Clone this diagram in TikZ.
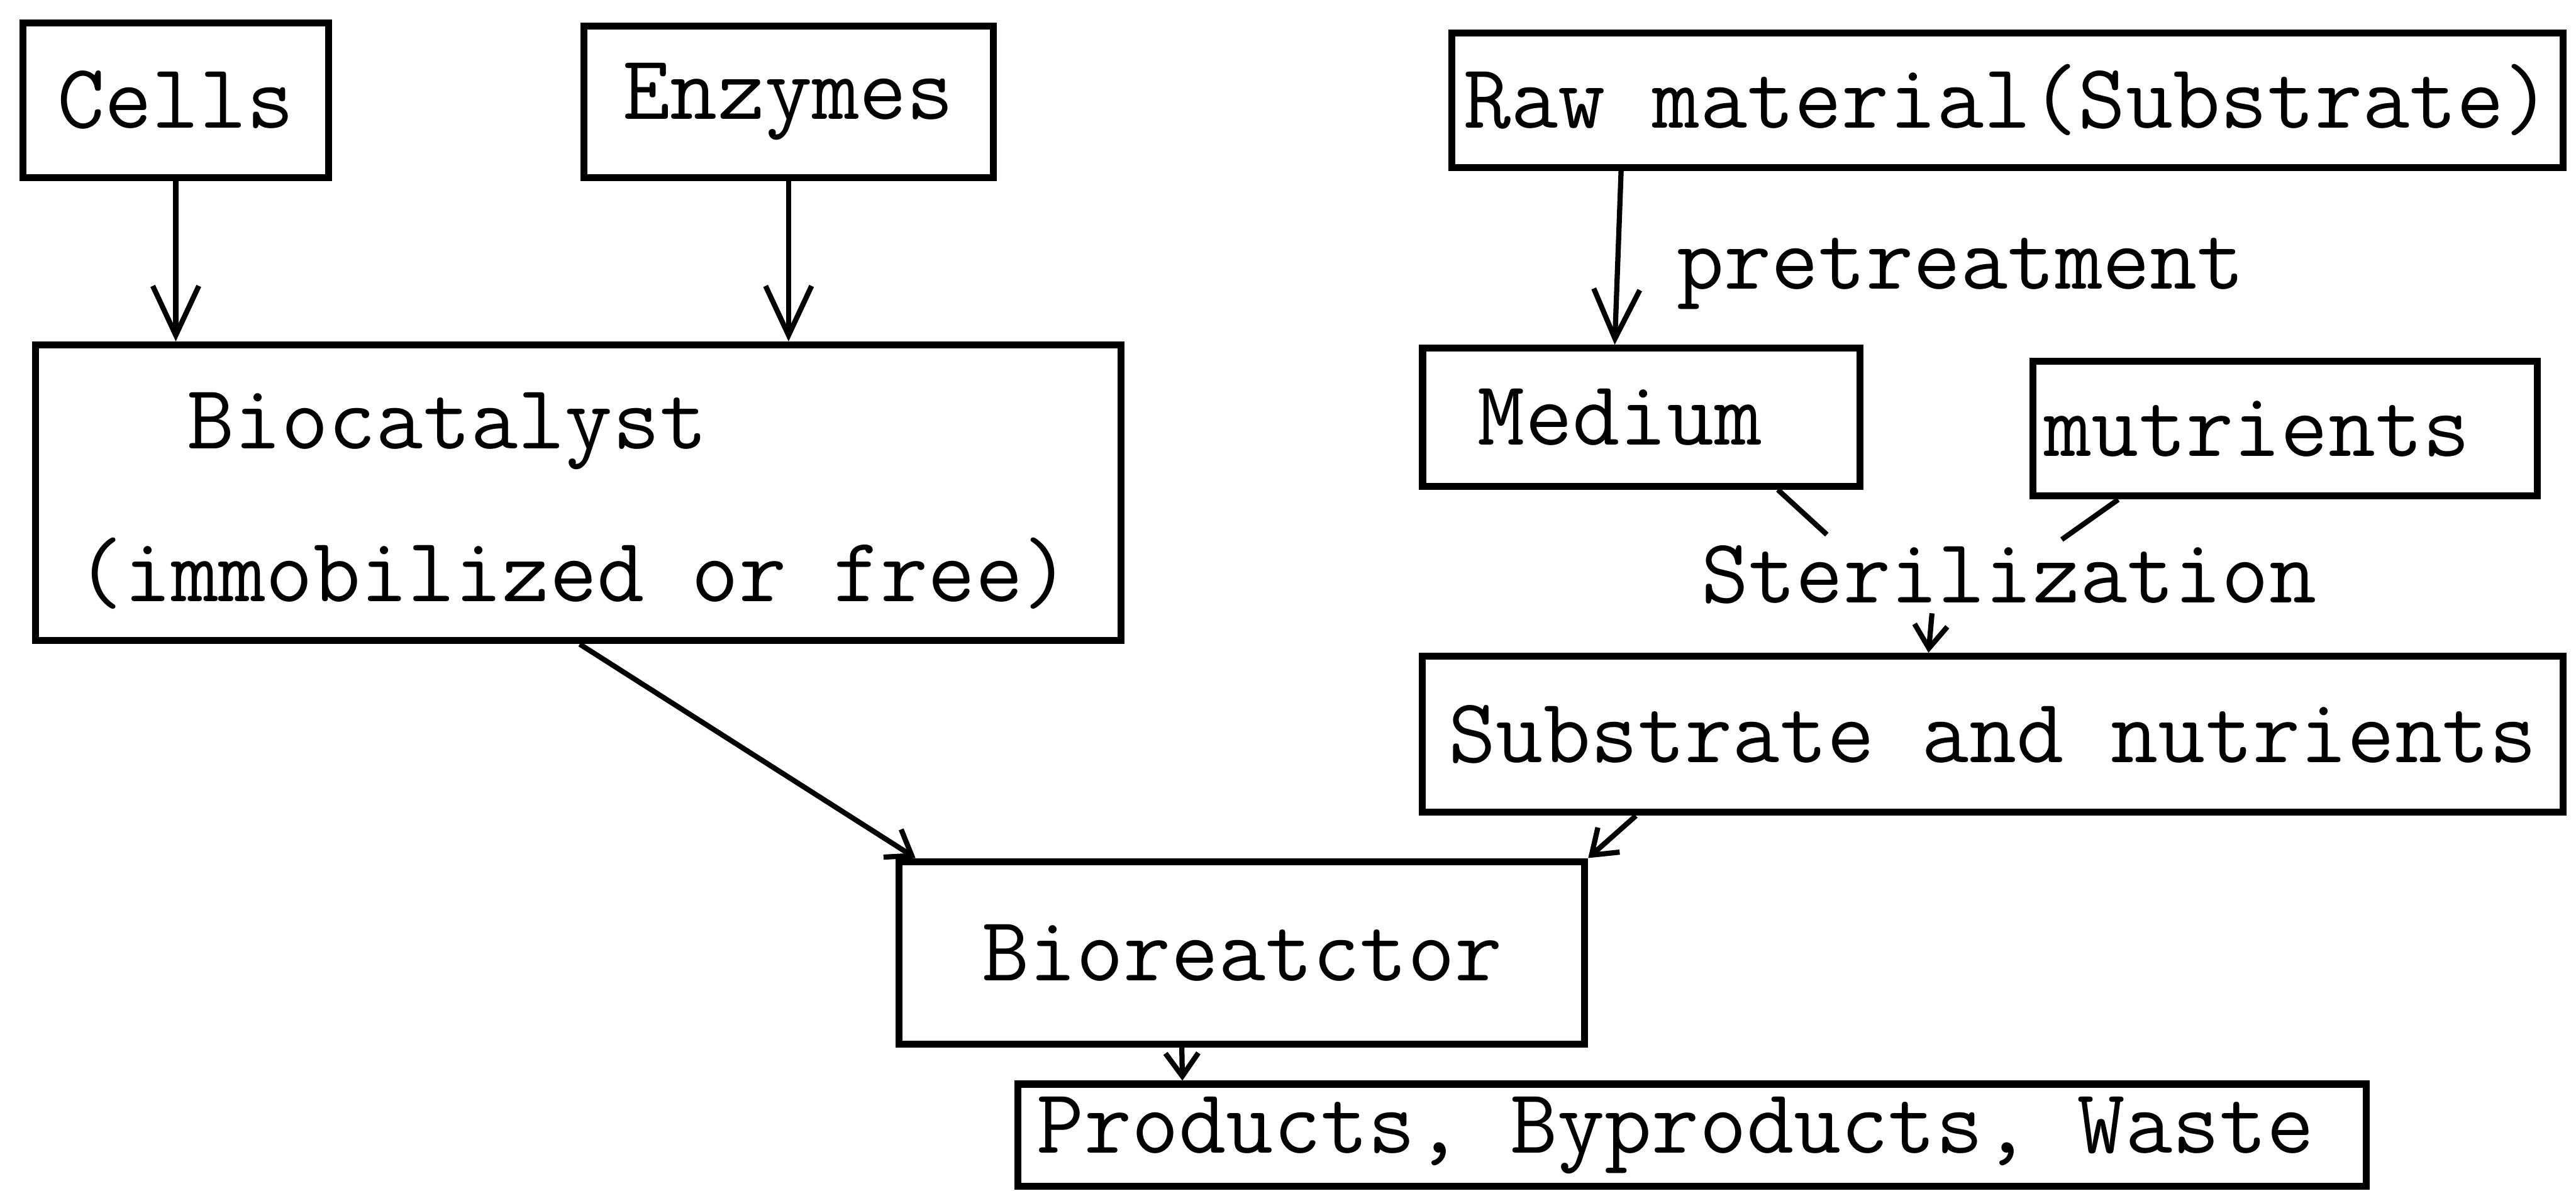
\documentclass[tikz,border=0pt]{standalone}
\usepackage{fontspec}
\usetikzlibrary{arrows.meta}
\begin{document}
\begin{tikzpicture}[x=0.01cm,y=-0.01cm,
    font=\ttfamily\fontsize{15.9}{18}\selectfont,
    box/.style={draw,line width=1.2pt,inner sep=0pt},
    txt/.style={inner sep=0pt,anchor=base west},
    arr/.style={line width=0.9pt,-{Straight Barb[length=0.3cm,width=0.28cm]}},
    sarr/.style={line width=0.9pt,-{Straight Barb[length=0.14cm,width=0.2cm]}}]
    \useasboundingbox (0,0) rectangle (1568,725);
    % input boxes
    \node[box,minimum width=1.86cm,minimum height=0.94cm] (cells) at (107,61) {Cells};
    \node[box,minimum width=2.49cm,minimum height=0.92cm] (enz) at (480,62) {Enzymes};
    \node[box,minimum width=6.76cm,minimum height=0.82cm] (raw) at (1222,61) {Raw material(Substrate)};
    % biocatalyst
    \node[box,minimum width=6.60cm,minimum height=1.80cm] (bio) at (352,300) {};
    \node[txt] (biot) at (113,273) {Biocatalyst};
    \node[txt] (biof) at (46,366) {(immobilized or free)};
    % medium side
    \node[txt] (pre) at (1020,176) {pretreatment};
    \node[box,minimum width=2.66cm,minimum height=0.84cm] (med) at (999,254) {Medium\hspace*{0.26cm}};
    \node[box,minimum width=3.07cm,minimum height=0.82cm] (nut) at (1391,261) {mutrients\hspace*{0.34cm}};
    \node[txt] (ster) at (1035,367) {Sterilization};
    \node[box,minimum width=6.94cm,minimum height=0.95cm] (sub) at (1213,447) {Substrate and nutrients};
    % reactor and output
    \node[box,minimum width=4.17cm,minimum height=1.11cm] (reac) at (756,580) {Bioreatctor};
    \node[box,minimum width=8.20cm,minimum height=0.62cm] (prod) at (1030,691) {Products, Byproducts, Waste\hspace*{0.2cm}};

    \draw[arr] (cells.south) -- (cells.south |- bio.north);
    \draw[arr] (enz.south) -- (enz.south |- bio.north);
    \draw[arr] ([xshift=1.05cm]raw.south west) -- ([xshift=1.19cm]med.north west);
    \draw[line width=0.9pt] ([xshift=-0.52cm]med.south east) -- ([shift={(77,-6)}]ster.north west);
    \draw[line width=0.9pt] ([xshift=0.54cm]nut.south west) -- ([shift={(220,-3)}]ster.north west);
    \draw[sarr] ([shift={(141,5)}]ster.south west) -- ([xshift=3.10cm]sub.north west);
    \draw[sarr] ([xshift=3.33cm]bio.south west) -- ([xshift=0.12cm]reac.north west);
    \draw[sarr] ([xshift=1.32cm]sub.south west) -- (reac.north east);
    \draw[sarr] ([xshift=1.74cm]reac.south west) -- ([xshift=1.02cm]prod.north west);
\end{tikzpicture}
\end{document}
